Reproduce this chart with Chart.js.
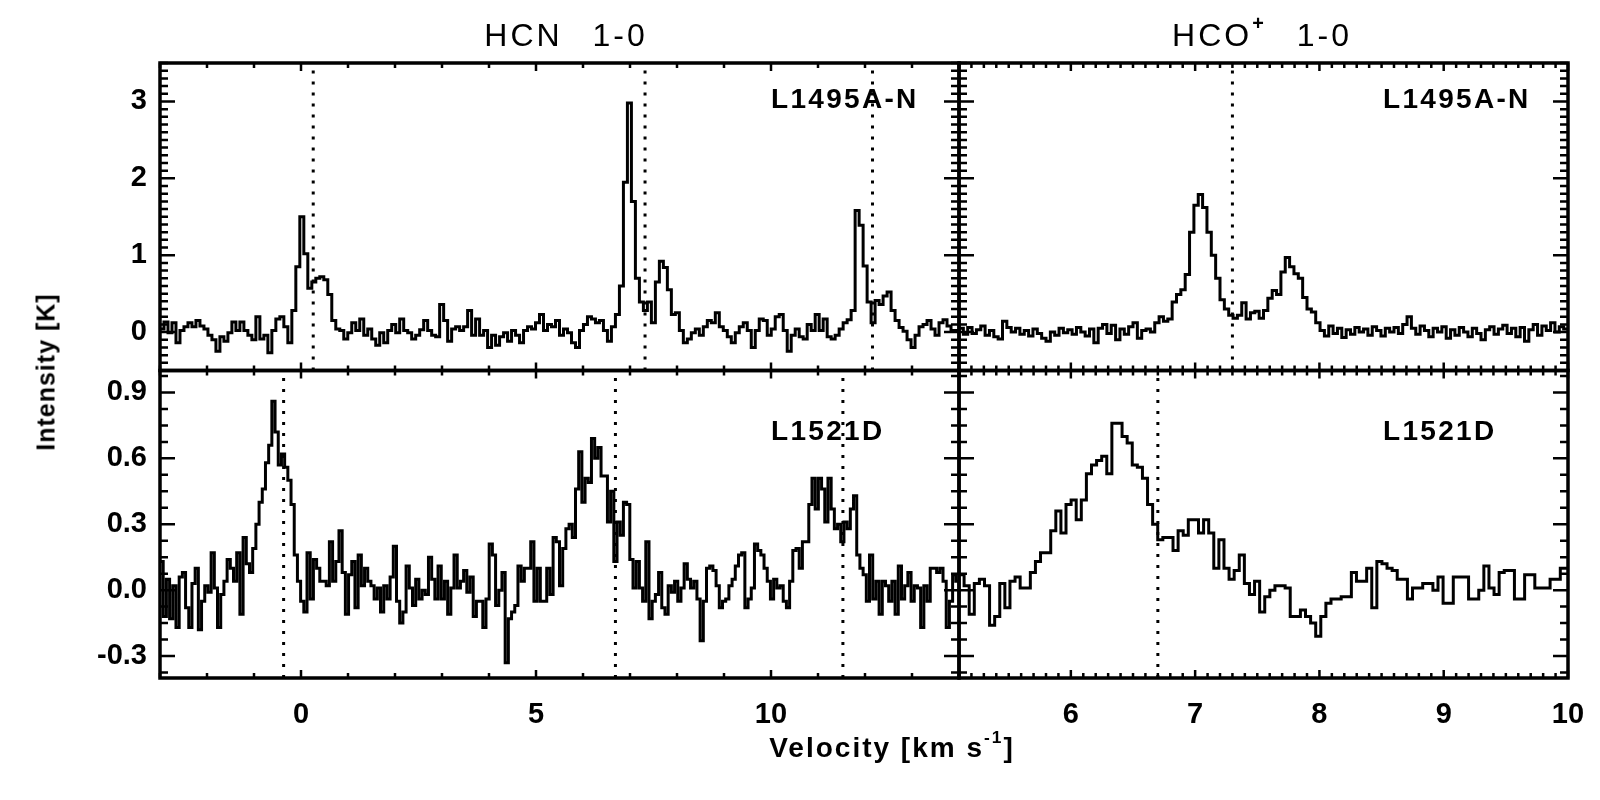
<!DOCTYPE html>
<html>
<head>
<meta charset="utf-8">
<title>HCN and HCO+ 1-0 spectra</title>
<script src="https://cdn.jsdelivr.net/npm/chart.js@4.4.1/dist/chart.umd.min.js"></script>
<style>
  html, body { margin: 0; padding: 0; background: #fff; }
  #wrap { position: relative; width: 1600px; height: 800px; overflow: hidden; }
  #chart { position: absolute; left: 0; top: 0; }
  .txt { position: absolute; transform: translate(-50%, -50%); white-space: pre; color: #000;
         font-family: "Liberation Sans", Arial, sans-serif; line-height: 1; }
  .title { font-size: 32px; letter-spacing: 3px; word-spacing: 18px; }
  .panel { font-size: 28px; font-weight: bold; letter-spacing: 2.3px; transform: translate(0, -50%); }
  .xlab { font-size: 28px; font-weight: bold; letter-spacing: 2px; }
  .ylab { font-size: 25px; font-weight: bold; letter-spacing: 1px; transform: translate(-50%, -50%) rotate(-90deg); }
  sup { font-size: 62%; vertical-align: 0.8em; line-height: 0; font-weight: bold; }
</style>
</head>
<body>
<div id="wrap">
  <canvas id="chart" width="1600" height="800"></canvas>
  <div class="txt title" style="left:566px;top:35px">HCN 1-0</div>
  <div class="txt title" style="left:1262px;top:35px">HCO<sup>+</sup> 1-0</div>
  <div class="txt panel" style="left:771px;top:99px">L1495A-N</div>
  <div class="txt panel" style="left:1383px;top:99px">L1495A-N</div>
  <div class="txt panel" style="left:771px;top:431px">L1521D</div>
  <div class="txt panel" style="left:1383px;top:431px">L1521D</div>
  <div class="txt ylab" style="left:46px;top:372px">Intensity [K]</div>
  <div class="txt xlab" style="left:892px;top:748px">Velocity [km s<sup>-1</sup>]</div>
</div>
<script>
/* Four spectra, IDL style: histogram traces, boxed panels with inward ticks.
 * One chart, the panels are stacked scales (two x side by side, two y on top
 * of each other); the box and the inward ticks come from a small plugin. */

// Channel grids: left edge of the first channel and channel width (km/s)
const HCN_TOP_V0 = -3.0, HCN_TOP_DV = 0.085;
const HCN_BOT_V0 = -3.0, HCN_BOT_DV = 0.068;
const HCO_TOP_V0 = 5.1, HCO_TOP_DV = 0.035;
const HCO_BOT_V0 = 5.1, HCO_BOT_DV = 0.041;

// HCN 1-0, L1495A-N (K)
const HCN_TOP = [
  0.04, 0.13, -0.01, 0.12, -0.14, 0.02, 0.07, 0.12, 0.07, 0.15,
  0.08, 0.04, -0.04, -0.10, -0.25, -0.06, -0.12, -0.01, 0.13, 0.02,
  0.13, 0.02, -0.04, -0.10, 0.20, -0.09, -0.04, -0.27, 0.02, 0.17,
  0.20, 0.07, -0.14, 0.28, 0.85, 1.50, 1.02, 0.57, 0.65, 0.70,
  0.72, 0.68, 0.49, 0.15, 0.04, 0.02, -0.09, -0.01, 0.12, 0.02,
  0.17, -0.04, 0.04, -0.09, -0.17, -0.01, -0.14, 0.02, 0.10, -0.01,
  0.17, 0.02, -0.01, -0.09, -0.04, 0.03, 0.15,
  0.02, -0.04, -0.06, 0.36, 0.15, -0.12, 0.04, 0.07, 0.02, 0.07,
  0.28, -0.04, 0.17, -0.04, 0.02, -0.20, -0.04, -0.17, -0.06, -0.01,
  -0.12, 0.02, -0.04, -0.14, 0.02, 0.07, 0.04, 0.12, 0.23, 0.02,
  0.10, 0.07, 0.15, -0.04, 0.04, -0.01, -0.14, -0.20, 0.02, 0.10,
  0.20, 0.17, 0.12, 0.15, 0.02, -0.12, 0.07, 0.23, 0.60, 1.95,
  2.98, 1.70, 0.70, 0.39, 0.28, 0.39, 0.12, 0.65, 0.92, 0.84,
  0.55, 0.23, 0.25, 0.02, -0.14, -0.09,
  -0.01, 0.04, -0.04, 0.07, 0.15, 0.12, 0.25, 0.07, 0.02, -0.06,
  -0.14, -0.01, 0.07, 0.12, 0.02, -0.20, 0.02, 0.17, 0.15, -0.04,
  0.04, 0.20, 0.23, 0.02, -0.25, -0.04, 0.04, -0.06, -0.09, 0.10,
  0.02, 0.23, 0.02, 0.17, -0.06, -0.09, -0.04, 0.04, 0.12, 0.16,
  0.28, 1.58, 1.39, 0.86, 0.39, 0.12, 0.41, 0.36, 0.47, 0.52,
  0.28, 0.15, 0.06, 0.01, -0.10, -0.20, -0.04, 0.07, 0.10, 0.15,
  0.04, -0.04, 0.12, 0.16, 0.08, 0.02, 0.02
];

// HCN 1-0, L1521D (K)
const HCN_BOT = [
  0.13, -0.12, 0.05, -0.13, 0.02, -0.17, 0.06, 0.08, -0.08, -0.17,
  0.03, 0.10, -0.18, -0.05, 0.02, -0.01, 0.17, 0.01, -0.17, -0.02,
  0.04, 0.14, 0.10, 0.04, 0.17, -0.11, 0.24, 0.12, 0.08, 0.19,
  0.30, 0.40, 0.46, 0.58, 0.66, 0.86, 0.72, 0.57, 0.62, 0.56,
  0.50, 0.39, 0.16, 0.04, -0.05, -0.10, 0.17, -0.04, 0.14, 0.10,
  0.04, 0.04, 0.02, 0.22, 0.04, 0.13, 0.27, 0.08, -0.11, 0.07,
  0.13, -0.08, 0.16, 0.02, 0.10, 0.04, 0.02, -0.04, 0.01, -0.10,
  0.02, -0.04, 0.06, 0.20, -0.05, -0.15, -0.10, 0.11, 0.01, -0.07,
  0.05, -0.04, 0.00, -0.02, 0.15, 0.05, -0.04, 0.11, -0.04, 0.04,
  -0.11, 0.01, 0.16, 0.01, 0.04, 0.09, -0.01, 0.06, -0.12, -0.05,
  -0.05, -0.17, -0.04, 0.21, 0.16, -0.07, 0.00, 0.08, -0.33, -0.13,
  -0.10, -0.07, 0.11, 0.04, 0.10, 0.10, 0.22, -0.05, 0.10, -0.05,
  -0.05, 0.10, -0.02, 0.24,
  0.22, 0.02, 0.19, 0.28, 0.30, 0.24, 0.46, 0.63, 0.40, 0.51,
  0.49, 0.69, 0.60, 0.65, 0.52, 0.52, 0.31, 0.45, 0.13, 0.31,
  0.25, 0.40, 0.39, 0.14, 0.01, 0.13, 0.01, -0.05, 0.22, -0.13,
  -0.05, -0.02, 0.08, -0.08, -0.11, 0.02, -0.01, 0.04, -0.05, 0.01,
  0.12, 0.05, 0.01, 0.04, -0.04, -0.23, -0.05, 0.10, 0.11, 0.09,
  0.02, -0.08, -0.05, -0.04, 0.02, 0.05, 0.11, 0.16, 0.17, -0.08,
  -0.04, 0.01, 0.21, 0.18, 0.16, 0.10, 0.04, -0.04, 0.05, 0.01,
  0.02, -0.05, -0.08, 0.04, 0.18, 0.19, 0.10, 0.22, 0.22, 0.39,
  0.51, 0.37, 0.51, 0.46, 0.31, 0.51, 0.37, 0.28,
  0.30, 0.22, 0.31, 0.28, 0.37, 0.43, 0.16, 0.10, 0.07, -0.05,
  0.16, -0.04, 0.04, -0.11, 0.04, 0.02, -0.05, 0.04, -0.11, 0.11,
  -0.04, 0.02, 0.08, -0.05, 0.02, 0.01, -0.17, 0.02, -0.05, 0.10,
  0.10, 0.08, 0.10, 0.04, -0.17, -0.05, 0.07, 0.04
];

// HCO+ 1-0, L1495A-N (K)
const HCO_TOP = [
  0.05, -0.03, 0.06, -0.02, 0.03, 0.08, -0.04, 0.02, -0.06, -0.09,
  0.14, 0.06, 0.00, 0.05, -0.03, 0.02, -0.05, 0.04, -0.02, -0.08,
  -0.12, 0.00, -0.04, 0.05, -0.01, 0.03, -0.03, 0.06, 0.00, -0.05,
  0.04, -0.14, 0.05, 0.10, -0.02, 0.09, -0.10, 0.04, -0.03, 0.07,
  0.12, -0.08, 0.02, 0.04, 0.00, 0.12, 0.20, 0.14, 0.17, 0.39,
  0.49, 0.55, 0.75, 1.30, 1.65, 1.79, 1.62, 1.30, 1.00, 0.70,
  0.42, 0.30, 0.22, 0.18, 0.22, 0.38, 0.17, 0.25, 0.27,
  0.18, 0.28, 0.44, 0.54, 0.49, 0.78, 0.97, 0.85, 0.76, 0.70,
  0.45, 0.30, 0.26, 0.12, 0.02, -0.05, 0.08, -0.02, 0.05, -0.07,
  0.03, -0.03, 0.06, 0.00, 0.04, -0.04, 0.07, 0.02, -0.05, 0.05,
  0.00, 0.06, -0.02, 0.10, 0.20, 0.05, -0.03, 0.08, 0.02, -0.06,
  0.05, 0.00, 0.07, -0.08, 0.03, -0.04, 0.06, 0.00, -0.06, 0.05,
  -0.02, -0.10, 0.03, 0.07, -0.03, 0.04, 0.09, -0.02, 0.05, -0.06,
  0.06, -0.12, 0.03, 0.10, -0.04, 0.08, 0.02, 0.12, 0.00, 0.07,
  0.04
];

// HCO+ 1-0, L1521D (K)
const HCO_BOT = [
  0.07, 0.02, -0.11, 0.03, 0.05, 0.02, -0.16, -0.12, 0.03, -0.08,
  0.04, 0.06, 0.01, 0.01, 0.08, 0.13, 0.17, 0.17, 0.27, 0.36,
  0.26, 0.39, 0.41, 0.32, 0.41, 0.53, 0.57, 0.59, 0.61, 0.53,
  0.76, 0.76, 0.70, 0.67, 0.57, 0.56, 0.51, 0.39, 0.30, 0.23,
  0.24, 0.24, 0.18, 0.27, 0.25, 0.32, 0.32, 0.26, 0.32, 0.26,
  0.10, 0.23, 0.10, 0.05, 0.09, 0.16, 0.03, -0.02, 0.04, -0.10,
  -0.03, 0.00, 0.02, 0.02, 0.01, -0.12, -0.12, -0.09, -0.12, -0.15,
  -0.21, -0.12, -0.06, -0.04, -0.04, -0.03, -0.03, 0.08, 0.04, 0.04,
  0.10, -0.08, 0.13, 0.12, 0.10, 0.09, 0.05, 0.05, -0.04, 0.01,
  0.01, 0.03, 0.03, 0.00, 0.06, -0.06, -0.06, 0.06, 0.06, 0.06,
  -0.04, -0.04, 0.00, 0.11, 0.01, -0.02, 0.08, 0.09, 0.09, -0.04,
  -0.04, 0.07, 0.07, 0.01, 0.01, 0.01, 0.05, 0.05, 0.10, 0.10
];

// Dotted velocity markers (km/s)
const HCN_TOP_MARKS = [0.26, 7.32, 12.16];
const HCN_BOT_MARKS = [-0.37, 6.69, 11.53];
const HCO_TOP_MARKS = [7.30];
const HCO_BOT_MARKS = [6.70];

// Axis ranges and labelled ticks
const HCN_X_RANGE = [-3, 14];
const HCO_X_RANGE = [5.1, 10];
const TOP_Y_RANGE = [-0.5, 3.5];
const BOT_Y_RANGE = [-0.4, 1.0];
const HCN_X_TICKS = [0, 5, 10];
const HCO_X_TICKS = [6, 7, 8, 9, 10];
const TOP_Y_TICKS = [0, 1, 2, 3];
const BOT_Y_TICKS = [-0.3, 0.0, 0.3, 0.6, 0.9];

const TICK_FONT = { family: '"Liberation Sans", Arial, sans-serif', size: 29, weight: 'bold' };

// histogram: one point per channel left edge, plus the right edge of the last one
function histogram(v0, dv, values) {
  const pts = values.map((y, i) => ({ x: v0 + i * dv, y: y }));
  pts.push({ x: v0 + values.length * dv, y: values[values.length - 1] });
  return pts;
}

function spectrum(values, v0, dv, xId, yId) {
  return {
    data: histogram(v0, dv, values), xAxisID: xId, yAxisID: yId,
    stepped: "before", borderColor: "#000", borderWidth: 3,
    borderJoinStyle: "miter", pointRadius: 0, fill: false,
  };
}

function markers(list, yRange, xId, yId) {
  return list.map((v) => ({
    data: [{ x: v, y: yRange[0] }, { x: v, y: yRange[1] }], xAxisID: xId, yAxisID: yId,
    borderColor: "#000", borderWidth: 3, borderDash: [3, 8], borderCapStyle: "butt", pointRadius: 0,
  }));
}

// the frame is fixed, so edge labels must not shrink the plot area
function noEdgePadding(s) {
  s.paddingLeft = 0; s.paddingRight = 0; s.paddingTop = 0; s.paddingBottom = 0;
}

function xScale(range, ticks, weight) {
  return {
    type: "linear", position: "bottom", stack: "vel", stackWeight: weight,
    min: range[0], max: range[1],
    afterBuildTicks: (s) => { s.ticks = ticks.map((v) => ({ value: v })); },
    afterFit: (s) => { s.height = 122; noEdgePadding(s); },
    grid: { display: false, drawTicks: false },
    border: { display: false },
    ticks: { color: "#000", font: TICK_FONT, padding: 20, autoSkip: false, maxRotation: 0,
             callback: (v) => String(v) },
  };
}

function yScale(range, ticks, fmt) {
  return {
    type: "linear", position: "left", stack: "int", stackWeight: 1,
    min: range[0], max: range[1],
    afterBuildTicks: (s) => { s.ticks = ticks.map((v) => ({ value: v })); },
    afterFit: (s) => { s.width = 160; noEdgePadding(s); },
    grid: { display: false, drawTicks: false },
    border: { display: false },
    ticks: { color: "#000", font: TICK_FONT, padding: 13, autoSkip: false, callback: fmt },
  };
}

// panel boxes with inward ticks on all four sides (IDL look)
const PANELS = [
  { x: "xL", y: "yTop", xMajor: HCN_X_TICKS, xStep: 1, yMajor: TOP_Y_TICKS, yStep: 0.1 },
  { x: "xR", y: "yTop", xMajor: HCO_X_TICKS, xStep: 0.1, yMajor: TOP_Y_TICKS, yStep: 0.1 },
  { x: "xL", y: "yBot", xMajor: HCN_X_TICKS, xStep: 1, yMajor: BOT_Y_TICKS, yStep: 0.075 },
  { x: "xR", y: "yBot", xMajor: HCO_X_TICKS, xStep: 0.1, yMajor: BOT_Y_TICKS, yStep: 0.075 },
];

function steps(min, max, step) {
  const out = [];
  for (let k = Math.ceil(min / step - 1e-6); k * step <= max + 1e-6; k++) out.push(k * step);
  return out;
}

const framePlugin = {
  id: "idlFrame",
  afterDatasetsDraw(chart) {
    const ctx = chart.ctx;
    ctx.save();
    ctx.strokeStyle = "#000";
    PANELS.forEach((p) => {
      const xs = chart.scales[p.x], ys = chart.scales[p.y];
      const l = xs.left, r = xs.right, t = ys.top, b = ys.bottom;
      ctx.lineWidth = 2.5;
      ctx.beginPath();
      const xTick = (v, len) => {
        const px = xs.getPixelForValue(v);
        ctx.moveTo(px, t); ctx.lineTo(px, t + len);
        ctx.moveTo(px, b); ctx.lineTo(px, b - len);
      };
      const yTick = (v, len) => {
        const py = ys.getPixelForValue(v);
        ctx.moveTo(l, py); ctx.lineTo(l + len, py);
        ctx.moveTo(r, py); ctx.lineTo(r - len, py);
      };
      steps(xs.min, xs.max, p.xStep).forEach((v) => xTick(v, 5));
      p.xMajor.forEach((v) => xTick(v, 8));
      steps(ys.min, ys.max, p.yStep).forEach((v) => yTick(v, 8));
      p.yMajor.forEach((v) => yTick(v, 15));
      ctx.stroke();
      ctx.lineWidth = 3.5;
      ctx.strokeRect(l, t, r - l, b - t);
    });
    ctx.restore();
  },
};

const datasets = [
  spectrum(HCN_TOP, HCN_TOP_V0, HCN_TOP_DV, "xL", "yTop"),
  spectrum(HCN_BOT, HCN_BOT_V0, HCN_BOT_DV, "xL", "yBot"),
  spectrum(HCO_TOP, HCO_TOP_V0, HCO_TOP_DV, "xR", "yTop"),
  spectrum(HCO_BOT, HCO_BOT_V0, HCO_BOT_DV, "xR", "yBot"),
].concat(
  markers(HCN_TOP_MARKS, TOP_Y_RANGE, "xL", "yTop"),
  markers(HCN_BOT_MARKS, BOT_Y_RANGE, "xL", "yBot"),
  markers(HCO_TOP_MARKS, TOP_Y_RANGE, "xR", "yTop"),
  markers(HCO_BOT_MARKS, BOT_Y_RANGE, "xR", "yBot")
);

new Chart(document.getElementById("chart"), {
  type: "line",
  data: { datasets: datasets },
  options: {
    responsive: false,
    animation: false,
    devicePixelRatio: 1,
    events: [],
    layout: { padding: { top: 63, right: 32, left: 0, bottom: 0 } },
    plugins: { legend: { display: false }, tooltip: { enabled: false } },
    scales: {
      xL: xScale(HCN_X_RANGE, HCN_X_TICKS, 799),
      xR: xScale(HCO_X_RANGE, HCO_X_TICKS, 609),
      // later left-stacked scale is placed on top
      yBot: yScale(BOT_Y_RANGE, BOT_Y_TICKS, (v) => v.toFixed(1)),
      yTop: yScale(TOP_Y_RANGE, TOP_Y_TICKS, (v) => String(v)),
    },
  },
  plugins: [framePlugin],
});
</script>
</body>
</html>
